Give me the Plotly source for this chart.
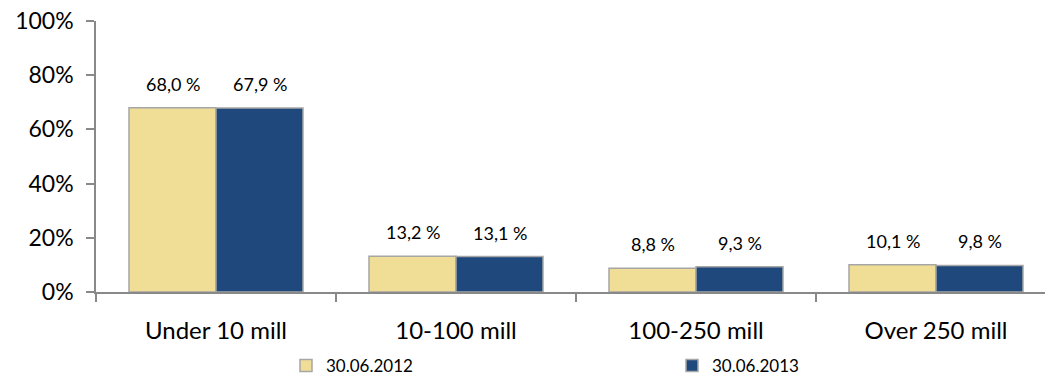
import plotly.graph_objects as go

# Share of holdings by size band, two reporting dates
categories = ["Under 10 mill", "10-100 mill", "100-250 mill", "Over 250 mill"]
share_2012 = [68.0, 13.2, 8.8, 10.1]
share_2013 = [67.9, 13.1, 9.3, 9.8]
series_names = ["30.06.2012", "30.06.2013"]
y_ticks = [0, 20, 40, 60, 80, 100]

FONT = "Lato"
AXIS_GREY = "#898989"
EDGE_GREY = "#A6A6A6"
colors = ["#F0DE96", "#1F497D"]
BARGAP = 0.275

fig = go.Figure()
for name, vals, col in zip(series_names, [share_2012, share_2013], colors):
    fig.add_trace(go.Bar(
        x=categories,
        y=[v / 100 for v in vals],
        name=name,
        marker=dict(color=col, line=dict(color=EDGE_GREY, width=1.5)),
        hoverinfo="skip",
    ))

# Value labels above each bar (comma decimal separator)
n = len(series_names)
bar_w = (1 - BARGAP) / n
for s, vals in enumerate([share_2012, share_2013]):
    for i, v in enumerate(vals):
        fig.add_annotation(
            x=i - (1 - BARGAP) / 2 + bar_w * (s + 0.5),
            y=v / 100,
            xref="x", yref="y",
            text=f"{v:.1f}".replace(".", ",") + " %",
            showarrow=False,
            yshift=24,
            font=dict(family=FONT, size=18, color="#000000"),
        )

W, H = 1045, 384
left, top, bottom = 96, 21, 92
plot_w = W - left
x_span = plot_w / 240.0  # one category band is 240 px wide

fig.update_layout(
    width=W, height=H,
    margin=dict(l=left, r=0, t=top, b=bottom, pad=0, autoexpand=False),
    paper_bgcolor="white", plot_bgcolor="white",
    barmode="group", bargap=BARGAP, bargroupgap=0,
    font=dict(family=FONT, color="#000000"),
    showlegend=True,
    legend=dict(
        orientation="h",
        xref="container", yref="container",
        x=286 / W, xanchor="left",
        y=-0.018, yanchor="bottom",
        entrywidth=341, entrywidthmode="pixels",
        font=dict(family=FONT, size=17),
        itemclick=False, itemdoubleclick=False,
        bgcolor="rgba(0,0,0,0)",
    ),
    xaxis=dict(
        type="category",
        range=[-0.5, -0.5 + x_span],
        showline=True, linecolor=AXIS_GREY, linewidth=1.5,
        ticks="outside", tickson="boundaries", ticklen=8,
        tickcolor=AXIS_GREY, tickwidth=1.5,
        tickfont=dict(family=FONT, size=24),
        ticklabelstandoff=16,
        showgrid=False, zeroline=False,
    ),
    yaxis=dict(
        range=[0, 1],
        tickvals=[t / 100 for t in y_ticks],
        ticktext=[f"{t}%" for t in y_ticks],
        showline=True, linecolor=AXIS_GREY, linewidth=1.5,
        ticks="outside", ticklen=8, tickcolor=AXIS_GREY, tickwidth=1.5,
        tickfont=dict(family=FONT, size=23),
        ticklabelstandoff=8,
        showgrid=False, zeroline=False,
    ),
)

fig.write_html("out.html")
